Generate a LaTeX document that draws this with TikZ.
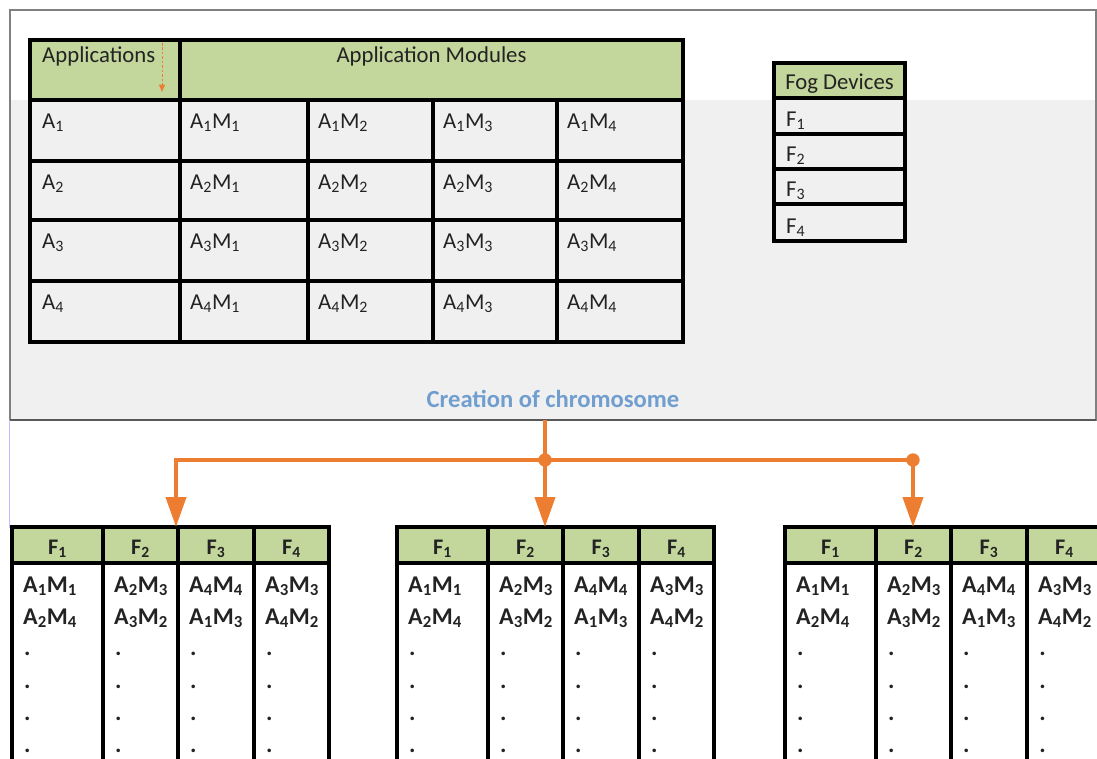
\documentclass[tikz,border=0pt]{standalone}
\usepackage{fontspec}
\setmainfont{Carlito}
\usetikzlibrary{arrows.meta}

\definecolor{hdrgreen}{RGB}{195,214,155}
\definecolor{linkorange}{RGB}{237,125,49}
\definecolor{titleblue}{RGB}{112,158,207}
\definecolor{panelgray}{RGB}{240,240,240}
\definecolor{framegray}{RGB}{128,128,128}
\definecolor{txtdark}{RGB}{35,35,35}

% one table cell: name, x1, y1, x2, y2, extra style
\newcommand\mkcell[6]{%
  \node[tcell,#6,minimum width={(#4-(#2))*0.03cm},minimum height={(#5-(#3))*0.03cm}]
    (#1) at ({(#2+#4)/2},{(#3+#5)/2}) {};}
% module label A_i M_j
\newcommand\am[2]{A\textsubscript{#1}M\textsubscript{#2}}

\begin{document}
\begin{tikzpicture}[x=0.03cm,y=-0.03cm,
  tcell/.style={rectangle,draw=black,line width=2.6pt,inner sep=0pt,outer sep=0pt},
  toptxt/.style={anchor=base west,inner sep=0pt,text=txtdark,font=\fontsize{19.4}{21}\selectfont},
  hdrtxt/.style={anchor=base,inner sep=0pt,text=txtdark,font=\fontsize{19.4}{21}\selectfont},
  colhdr/.style={anchor=base,inner sep=0pt,text=txtdark,font=\fontsize{19}{21}\selectfont\bfseries},
  bodytxt/.style={anchor=base west,inner sep=0pt,text=txtdark,font=\fontsize{20.5}{22}\selectfont\bfseries},
  link/.style={draw=linkorange,line width=3.4pt},
  linkhead/.style={-{Triangle[length=0.9cm,width=0.6cm]}},
]
\useasboundingbox (0,0) rectangle (1097,758);
\clip (0,0) rectangle (1097,758);
\fill[white] (0,0) rectangle (1097,758);

% input panel
\fill[panelgray] (10,100) rectangle (1096,420);
\node[rectangle,draw=framegray,line width=1.2pt,inner sep=0pt,outer sep=0pt,
      minimum width={1086*0.03cm},minimum height={410*0.03cm}] (panel) at (553,215) {};
\draw[black!65,line width=1.6pt] (panel.south west) -- (panel.south east);
\draw[blue!25,line width=0.8pt] ([shift={(-1,0)}]panel.south west) -- ++(0,108);

% applications / modules table
\mkcell{hApp}{30}{40}{180}{100}{fill=hdrgreen}
\mkcell{hMod}{180}{40}{683}{100}{fill=hdrgreen}
\node[toptxt] at ([shift={(12,23)}]hApp.north west) {Applications};
\node[hdrtxt] at ([shift={(0,23)}]hMod.north) {Application Modules};
\draw[linkorange,line width=0.8pt,dash pattern=on 2.2pt off 1.6pt,
      -{Triangle[length=0.22cm,width=0.18cm]}]
  ([shift={(-18,3)}]hApp.north east) -- ([shift={(-18,-8)}]hApp.south east);

\foreach \i/\ya/\yb in {1/100/161,2/161/220,3/220/281,4/281/342}{
  \mkcell{a\i}{30}{\ya}{180}{\yb}{}
  \node[toptxt] at ([shift={(12,28)}]a\i.north west) {A\textsubscript{\i}};
  \foreach \j/\xa/\xb in {1/180/308,2/308/433,3/433/557,4/557/683}{
    \mkcell{m\i\j}{\xa}{\ya}{\xb}{\yb}{}
    \node[toptxt] at ([shift={(10,28)}]m\i\j.north west) {\am{\i}{\j}};
  }
}

% fog device list
\mkcell{fh}{774}{63}{905}{98}{fill=hdrgreen}
\node[hdrtxt] at ([shift={(0,-9)}]fh.south) {Fog Devices};
\foreach \k/\ya/\yb in {1/98/134,2/134/169,3/169/204,4/204/241}{
  \mkcell{f\k}{774}{\ya}{905}{\yb}{}
  \node[toptxt] at ([shift={(12,-8)}]f\k.south west) {F\textsubscript{\k}};
}

\node[anchor=base,inner sep=0pt,text=titleblue,font=\fontsize{21}{23}\selectfont\bfseries]
  (title) at (553,407) {Creation of chromosome};

% three candidate chromosomes
\foreach \g/\L in {1/12,2/397,3/785}{
  \foreach \c/\oa/\ob/\p/\q/\r/\s in {1/0/91/1/1/2/4,2/91/166/2/3/3/2,3/166/242/4/4/1/3,4/242/317/3/3/4/2}{
    \mkcell{g\g h\c}{\L+\oa}{527}{\L+\ob}{563}{fill=hdrgreen}
    \mkcell{g\g b\c}{\L+\oa}{563}{\L+\ob}{800}{fill=white}
    \node[colhdr] at ([shift={(0,-9)}]g\g h\c.south) {F\textsubscript{\c}};
    \node[bodytxt] at ([shift={(11,29)}]g\g b\c.north west) {\am{\p}{\q}};
    \node[bodytxt] at ([shift={(11,61)}]g\g b\c.north west) {\am{\r}{\s}};
    \foreach \d in {92,125,157,189}{
      \node[bodytxt] at ([shift={(12,\d)}]g\g b\c.north west) {.};
    }
  }
}

% connectors from the panel to the chromosomes
\coordinate (src) at (545,420);
\coordinate (jmid) at (545,460);
\coordinate (jleft) at (176,460);
\coordinate (jright) at (913,460);
\draw[link] (src) -- (jmid);
\draw[link,linkhead] (jright) -- (jleft) -- (jleft |- g1h2.north);
\draw[link,linkhead] (jmid) -- (jmid |- g2h2.north);
\draw[link,linkhead] (jright) -- (jright |- g3h2.north);
\fill[linkorange] (jmid) circle (0.2cm);
\fill[linkorange] (jright) circle (0.2cm);
\end{tikzpicture}
\end{document}
